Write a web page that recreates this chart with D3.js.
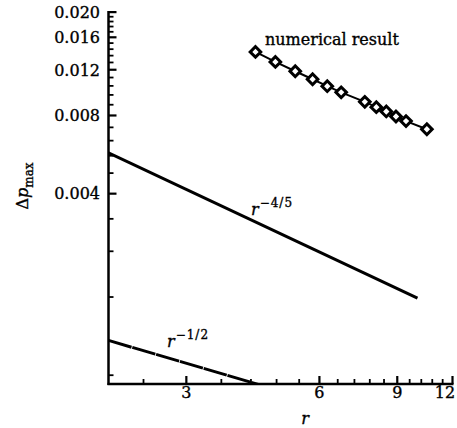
<!DOCTYPE html>
<html>
<head>
<meta charset="utf-8">
<script src="https://cdn.jsdelivr.net/npm/d3@7"></script>
<style>
  body { margin: 0; background: #fff; }
  svg text { font-family: "DejaVu Serif", "Liberation Serif", serif; fill: #000; stroke: #000; stroke-width: 0.35px; }
</style>
</head>
<body>
<div id="chart"></div>
<script>
// numerical result
const numR = [4.30, 4.77, 5.29, 5.79, 6.25, 6.72, 7.60, 8.07, 8.50, 8.94, 9.42, 10.50]
const numDp = [0.01405, 0.01286, 0.01184, 0.01103, 0.01037, 0.00982, 0.00903, 0.00861, 0.00829, 0.00793, 0.00761, 0.00708]

// reference slopes: dp = c * r^k
const fitR45 = [2, 10]
const fitR12 = [2, 4.6]
const c45 = 0.01, k45 = -0.8
const c12 = 0.00154, k12 = -0.5

// ticks
const xMajor = [3, 6, 9, 12]
const xMinor = [2.4, 3.6, 4.2, 4.8, 5.4, 6.6, 7.2, 7.8, 8.4, 9.6, 10.2, 10.8, 11.4]
const yMajor = [0.004, 0.008, 0.012, 0.016, 0.020]
const yMinor = d3.range(1, 25).map(i => i * 0.0008).filter(v => Math.abs(v / 0.004 - Math.round(v / 0.004)) > 1e-6)

// ----------------------------------------------------------

const W = 457, H = 428
const plot = { left: 108.5, right: 452.5, top: 11, bottom: 384 }

const svg = d3.select("#chart").append("svg")
    .attr("width", W).attr("height", H)

const x = d3.scaleLog().domain([2, 12]).range([plot.left, plot.right])
const y = d3.scaleLog().domain([0.00074, 0.0202]).range([plot.bottom, plot.top])

svg.append("clipPath").attr("id", "plotClip")
    .append("rect").attr("x", plot.left).attr("y", plot.top)
    .attr("width", plot.right - plot.left).attr("height", plot.bottom - plot.top)

const axisGroup = svg.append("g").attr("id", "axisGroup")

// y axis
axisGroup.append("line")
    .attr("x1", plot.left).attr("x2", plot.left).attr("y1", plot.top).attr("y2", plot.bottom + 1)
    .attr("stroke", "#000").attr("stroke-width", 2.5)
axisGroup.selectAll(".yminor").data(yMinor).enter().append("line")
    .attr("x1", plot.left).attr("x2", plot.left + 5)
    .attr("y1", d => y(d)).attr("y2", d => y(d))
    .attr("stroke", "#000").attr("stroke-width", 1.8)
axisGroup.selectAll(".ymajor").data(yMajor).enter().append("line")
    .attr("x1", plot.left).attr("x2", plot.left + 8)
    .attr("y1", d => y(d)).attr("y2", d => y(d))
    .attr("stroke", "#000").attr("stroke-width", 2.2)
axisGroup.selectAll(".ylab").data(yMajor).enter().append("text")
    .attr("x", 100).attr("y", d => y(d))
    .attr("dy", "0.36em")
    .attr("text-anchor", "end")
    .style("font-size", "16px")
    .text(d => d3.format(".3f")(d))

// x axis
axisGroup.append("line")
    .attr("x1", plot.left - 1).attr("x2", plot.right + 1).attr("y1", plot.bottom).attr("y2", plot.bottom)
    .attr("stroke", "#000").attr("stroke-width", 2.5)
axisGroup.selectAll(".xminor").data(xMinor).enter().append("line")
    .attr("x1", d => x(d)).attr("x2", d => x(d))
    .attr("y1", plot.bottom).attr("y2", plot.bottom - 5)
    .attr("stroke", "#000").attr("stroke-width", 1.8)
axisGroup.selectAll(".xmajor").data(xMajor).enter().append("line")
    .attr("x1", d => x(d)).attr("x2", d => x(d))
    .attr("y1", plot.bottom).attr("y2", plot.bottom - 8)
    .attr("stroke", "#000").attr("stroke-width", 2.2)
axisGroup.selectAll(".xlab").data(xMajor).enter().append("text")
    .attr("x", d => Math.min(x(d), W - 12)).attr("y", 398)
    .attr("text-anchor", "middle")
    .style("font-size", "16px")
    .text(d => d)

// axis titles
svg.append("text")
    .attr("x", 305).attr("y", 424)
    .attr("text-anchor", "middle")
    .style("font-size", "16px").style("font-style", "italic")
    .text("r")

const yTitle = svg.append("text")
    .attr("transform", "translate(28,186) rotate(-90)")
    .attr("text-anchor", "middle")
    .style("font-size", "16px")
yTitle.append("tspan").text("Δ")
yTitle.append("tspan").style("font-style", "italic").text("p")
yTitle.append("tspan").attr("dy", 5).style("font-size", "12px").text("max")

// power-law reference lines
const elementGroup = svg.append("g").attr("id", "elementGroup").attr("clip-path", "url(#plotClip)")

const powLine = (c, k) => d3.line()
    .x(d => x(d))
    .y(d => y(c * Math.pow(d, k)))

elementGroup.append("path")
    .datum(fitR45)
    .attr("d", powLine(c45, k45))
    .attr("fill", "none").attr("stroke", "#000").attr("stroke-width", 3)

elementGroup.append("path")
    .datum(fitR12)
    .attr("d", powLine(c12, k12))
    .attr("fill", "none").attr("stroke", "#000").attr("stroke-width", 3)
    .attr("stroke-dasharray", "24,0.8")

// numerical result
const numData = numR.map((r, i) => ({ r: r, dp: numDp[i] }))

svg.append("path")
    .datum(numData)
    .attr("d", d3.line().x(d => x(d.r)).y(d => y(d.dp)))
    .attr("fill", "none").attr("stroke", "#000").attr("stroke-width", 2)

svg.selectAll(".pt").data(numData).enter().append("path")
    .attr("class", "pt")
    .attr("transform", d => "translate(" + x(d.r) + "," + y(d.dp) + ") rotate(45)")
    .attr("d", d3.symbol().type(d3.symbolSquare).size(56))
    .attr("fill", "#fff").attr("stroke", "#000").attr("stroke-width", 3)

// labels
svg.append("text")
    .attr("x", 265).attr("y", 45)
    .style("font-size", "16px")
    .text("numerical result")

function powLabel(px, py, sup) {
    const t = svg.append("text").attr("x", px).attr("y", py).style("font-size", "16px")
    t.append("tspan").style("font-style", "italic").text("r")
    t.append("tspan").attr("dy", -8).attr("dx", 1).style("font-size", "12px")
        .style("letter-spacing", "1px").text(sup)
}
powLabel(251, 215, "−4/5")
powLabel(167, 347, "−1/2")
</script>
</body>
</html>
